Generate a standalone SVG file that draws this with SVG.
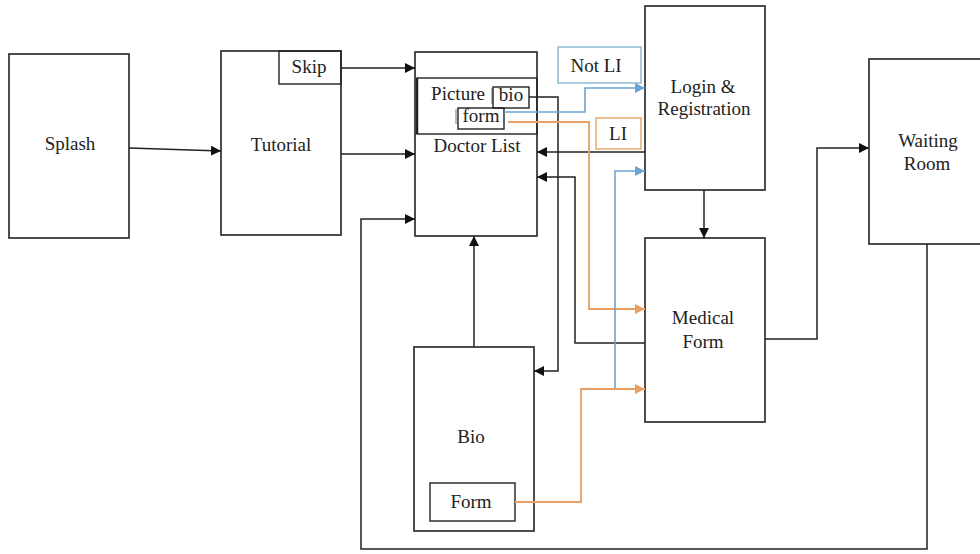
<svg xmlns="http://www.w3.org/2000/svg" width="980" height="554" viewBox="0 0 980 554">
<style>
.box{fill:#fff;stroke:#222;stroke-width:1.6}
.sub{fill:none;stroke:#222;stroke-width:1.4}
.t{font-family:"Liberation Serif","Times New Roman",serif;font-size:19px;fill:#222;text-anchor:middle}
.c{fill:none;stroke:#222;stroke-width:1.5}
.b{fill:none;stroke:#6fa3cf;stroke-width:1.6}
.o{fill:none;stroke:#e9a062;stroke-width:1.8}
</style>
<defs>
<marker id="ak" viewBox="0 0 10 10" refX="10" refY="5" markerWidth="10" markerHeight="10" markerUnits="userSpaceOnUse" orient="auto"><path d="M0,0 L10,5 L0,10 z" fill="#111"/></marker>
<marker id="ab" viewBox="0 0 10 10" refX="10" refY="5" markerWidth="10" markerHeight="10" markerUnits="userSpaceOnUse" orient="auto"><path d="M0,0 L10,5 L0,10 z" fill="#6fa3cf"/></marker>
<marker id="ao" viewBox="0 0 10 10" refX="10" refY="5" markerWidth="10" markerHeight="10" markerUnits="userSpaceOnUse" orient="auto"><path d="M0,0 L10,5 L0,10 z" fill="#e9a062"/></marker>
</defs>
<rect width="980" height="554" fill="#fff"/>
<g id="splash"><rect class="box" x="9" y="54" width="120" height="184"/><text class="t" x="70" y="150">Splash</text></g>
<g id="tutorial"><rect class="box" x="221" y="51" width="120" height="184"/><text class="t" x="281" y="151">Tutorial</text>
<rect class="sub" x="279" y="51" width="62" height="33"/><text class="t" x="309" y="73">Skip</text></g>
<g id="doctor-list"><rect class="box" x="415" y="52" width="122" height="184"/>
<rect class="sub" x="417" y="78" width="120" height="56"/><line x1="417" y1="78" x2="417" y2="134" stroke="#222" stroke-width="2.5"/>
<text class="t" x="458" y="100">Picture</text>
<line x1="492" y1="88" x2="492" y2="104" stroke="#777" stroke-width="1"/>
<rect class="sub" x="493" y="87" width="36" height="21"/><text class="t" x="511" y="101">bio</text>
<line x1="456" y1="109" x2="456" y2="124" stroke="#777" stroke-width="1"/>
<rect class="sub" x="458" y="108" width="46" height="21"/><text class="t" x="481" y="122">form</text>
<text class="t" x="477" y="152">Doctor List</text></g>
<g id="login"><rect class="box" x="645" y="6" width="120" height="184"/><text class="t" x="703" y="93">Login &amp;</text><text class="t" x="704" y="115">Registration</text></g>
<g id="medical-form"><rect class="box" x="645" y="238" width="120" height="184"/><text class="t" x="703" y="324">Medical</text><text class="t" x="703" y="348">Form</text></g>
<g id="waiting-room"><rect class="box" x="869" y="59" width="120" height="185"/><text class="t" x="928" y="147">Waiting</text><text class="t" x="927" y="170">Room</text></g>
<g id="bio"><rect class="box" x="414" y="347" width="120" height="184"/><text class="t" x="471" y="443">Bio</text>
<rect class="sub" x="430" y="483" width="85" height="38"/><text class="t" x="471" y="508">Form</text></g>
<g id="not-li"><rect x="558" y="47" width="83" height="36" fill="#fff" stroke="#8fbcd8" stroke-width="1.5"/><text class="t" x="596" y="72">Not LI</text></g>
<g id="li"><rect x="596" y="118" width="45" height="31" fill="#fff" stroke="#e6ac74" stroke-width="1.5"/><text class="t" x="618" y="140">LI</text></g>
<g id="connectors">
<path class="c" d="M129,148 L221,151" marker-end="url(#ak)"/>
<path class="c" d="M341,68 H415" marker-end="url(#ak)"/>
<path class="c" d="M341,154 H415" marker-end="url(#ak)"/>
<path class="c" d="M645,152 H537" marker-end="url(#ak)"/>
<path class="c" d="M645,343 H575 V177 H537" marker-end="url(#ak)"/>
<path class="c" d="M529,97 H558 V371 H534" marker-end="url(#ak)"/>
<path class="c" d="M474,347 V236" marker-end="url(#ak)"/>
<path class="c" d="M704,190 V238" marker-end="url(#ak)"/>
<path class="c" d="M765,339 H817 V148 H869" marker-end="url(#ak)"/>
<path class="c" d="M927,244 V549 H361 V219 H415" marker-end="url(#ak)"/>
<path class="b" d="M504,112 H585 V88 H645" marker-end="url(#ab)"/>
<path class="o" d="M508,122 H589 V309 H645" marker-end="url(#ao)"/>
<path class="b" d="M581,389 H615 V171 H645" marker-end="url(#ab)"/>
<path class="o" d="M515,502 H581 V389 H645" marker-end="url(#ao)"/>
</g>
</svg>
